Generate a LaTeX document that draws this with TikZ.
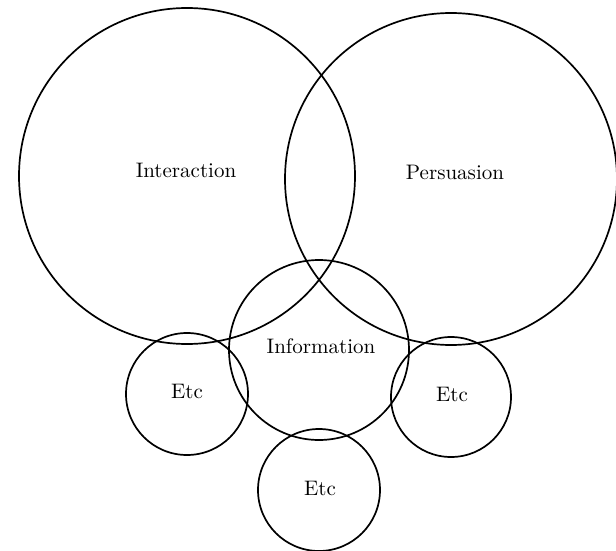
\documentclass[tikz,border=0pt]{standalone}
\begin{document}
\begin{tikzpicture}[x=0.5pt,y=-0.5pt,
  ring/.style={draw=black,line width=0.85pt,circle,inner sep=0pt},
  lbl/.style={font=\fontsize{10.5}{12}\selectfont,inner sep=0pt}]
\useasboundingbox (0,0) rectangle (616,551);
\draw[line width=0.85pt] (187,176) circle[radius=168];
\draw[line width=0.85pt] (451,179) circle[radius=166];
\draw[line width=0.85pt] (319,350) circle[radius=90];
\draw[line width=0.85pt] (187,394) circle[radius=61];
\draw[line width=0.85pt] (451,397) circle[radius=60];
\draw[line width=0.85pt] (319,490) circle[radius=61];
\node[lbl] (interaction) at (186,170) {Interaction};
\node[lbl] (persuasion) at (455,172) {Persuasion};
\node[lbl] (information) at (321,346) {Information};
\node[lbl] (etc1) at (187,391) {Etc};
\node[lbl] (etc2) at (452,394) {Etc};
\node[lbl] (etc3) at (320,488) {Etc};
\end{tikzpicture}
\end{document}
